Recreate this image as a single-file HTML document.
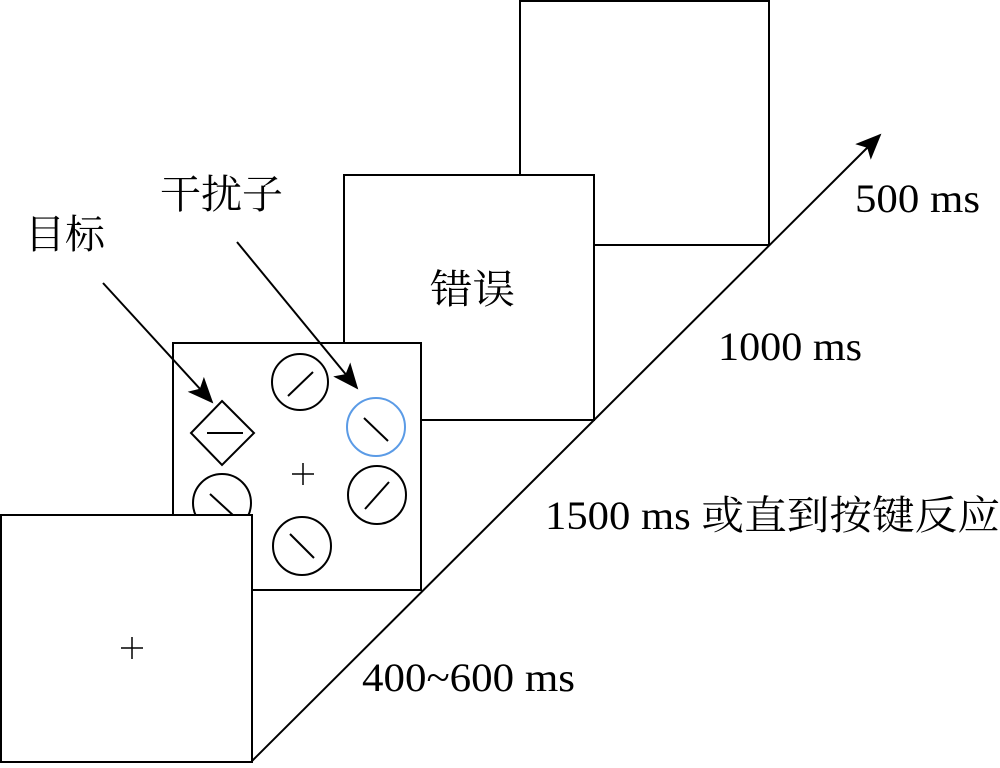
<!DOCTYPE html>
<html><head><meta charset="utf-8"><style>
html,body{margin:0;padding:0;background:#fff;}
svg text{font-family:"Liberation Serif","Noto Serif CJK SC","Noto Sans CJK SC",serif;fill:#000;}
</style></head><body>
<svg width="1000" height="763" viewBox="0 0 1000 763" xmlns="http://www.w3.org/2000/svg">
<defs>
<marker id="ah2" markerWidth="26" markerHeight="22" refX="24" refY="11" orient="auto" markerUnits="userSpaceOnUse"><path d="M0,0 L26,11 L0,22 L6,11 Z" fill="#000"/></marker></defs>
<g fill="#fff" stroke="#000" stroke-width="2">
<rect x="520" y="1" width="249" height="244"/>
<rect x="344" y="175" width="250" height="245"/>
<rect x="173" y="343" width="248" height="247"/>
</g>
<g fill="none" stroke="#000" stroke-width="2">
<circle cx="300" cy="382" r="28"/><line x1="288" y1="396" x2="313" y2="372"/>
<circle cx="376" cy="427" r="29" stroke="#5b9be6"/><line x1="364" y1="418" x2="388" y2="441"/>
<circle cx="377" cy="495" r="29"/><line x1="365" y1="509" x2="389" y2="482"/>
<circle cx="302" cy="546" r="29"/><line x1="290" y1="534" x2="314" y2="558"/>
<circle cx="222" cy="503" r="29"/><line x1="210" y1="494" x2="234" y2="516"/>
<path d="M222,401 L254,433 L222,465 L191,433 Z"/><line x1="207" y1="433" x2="243" y2="433"/>
<line x1="292" y1="474" x2="314" y2="474" stroke-width="1.5"/><line x1="303" y1="463" x2="303" y2="485" stroke-width="1.5"/>
</g>
<rect x="1" y="515" width="251" height="247" fill="#fff" stroke="#000" stroke-width="2"/>
<g stroke="#000" stroke-width="1.5"><line x1="121" y1="648" x2="143" y2="648"/><line x1="132" y1="637" x2="132" y2="659"/></g>
<line x1="252" y1="761" x2="880" y2="135" stroke="#000" stroke-width="2" marker-end="url(#ah2)"/>
<line x1="103" y1="283" x2="212" y2="402" stroke="#000" stroke-width="2" marker-end="url(#ah2)"/>
<line x1="237" y1="242" x2="357" y2="388" stroke="#000" stroke-width="2" marker-end="url(#ah2)"/>
<g font-size="40">
<text x="25" y="248" textLength="80" lengthAdjust="spacingAndGlyphs">目标</text>
<text x="160" y="208" textLength="123" lengthAdjust="spacingAndGlyphs">干扰子</text>
<text x="430" y="303" textLength="85" lengthAdjust="spacingAndGlyphs">错误</text>
<text x="855" y="212" textLength="125" lengthAdjust="spacingAndGlyphs">500 ms</text>
<text x="718" y="360" textLength="144" lengthAdjust="spacingAndGlyphs">1000 ms</text>
<text x="545" y="529" textLength="455" lengthAdjust="spacingAndGlyphs">1500 ms 或直到按键反应</text>
<text x="362" y="691" textLength="213" lengthAdjust="spacingAndGlyphs">400~600 ms</text>
</g>
</svg>
</body></html>
